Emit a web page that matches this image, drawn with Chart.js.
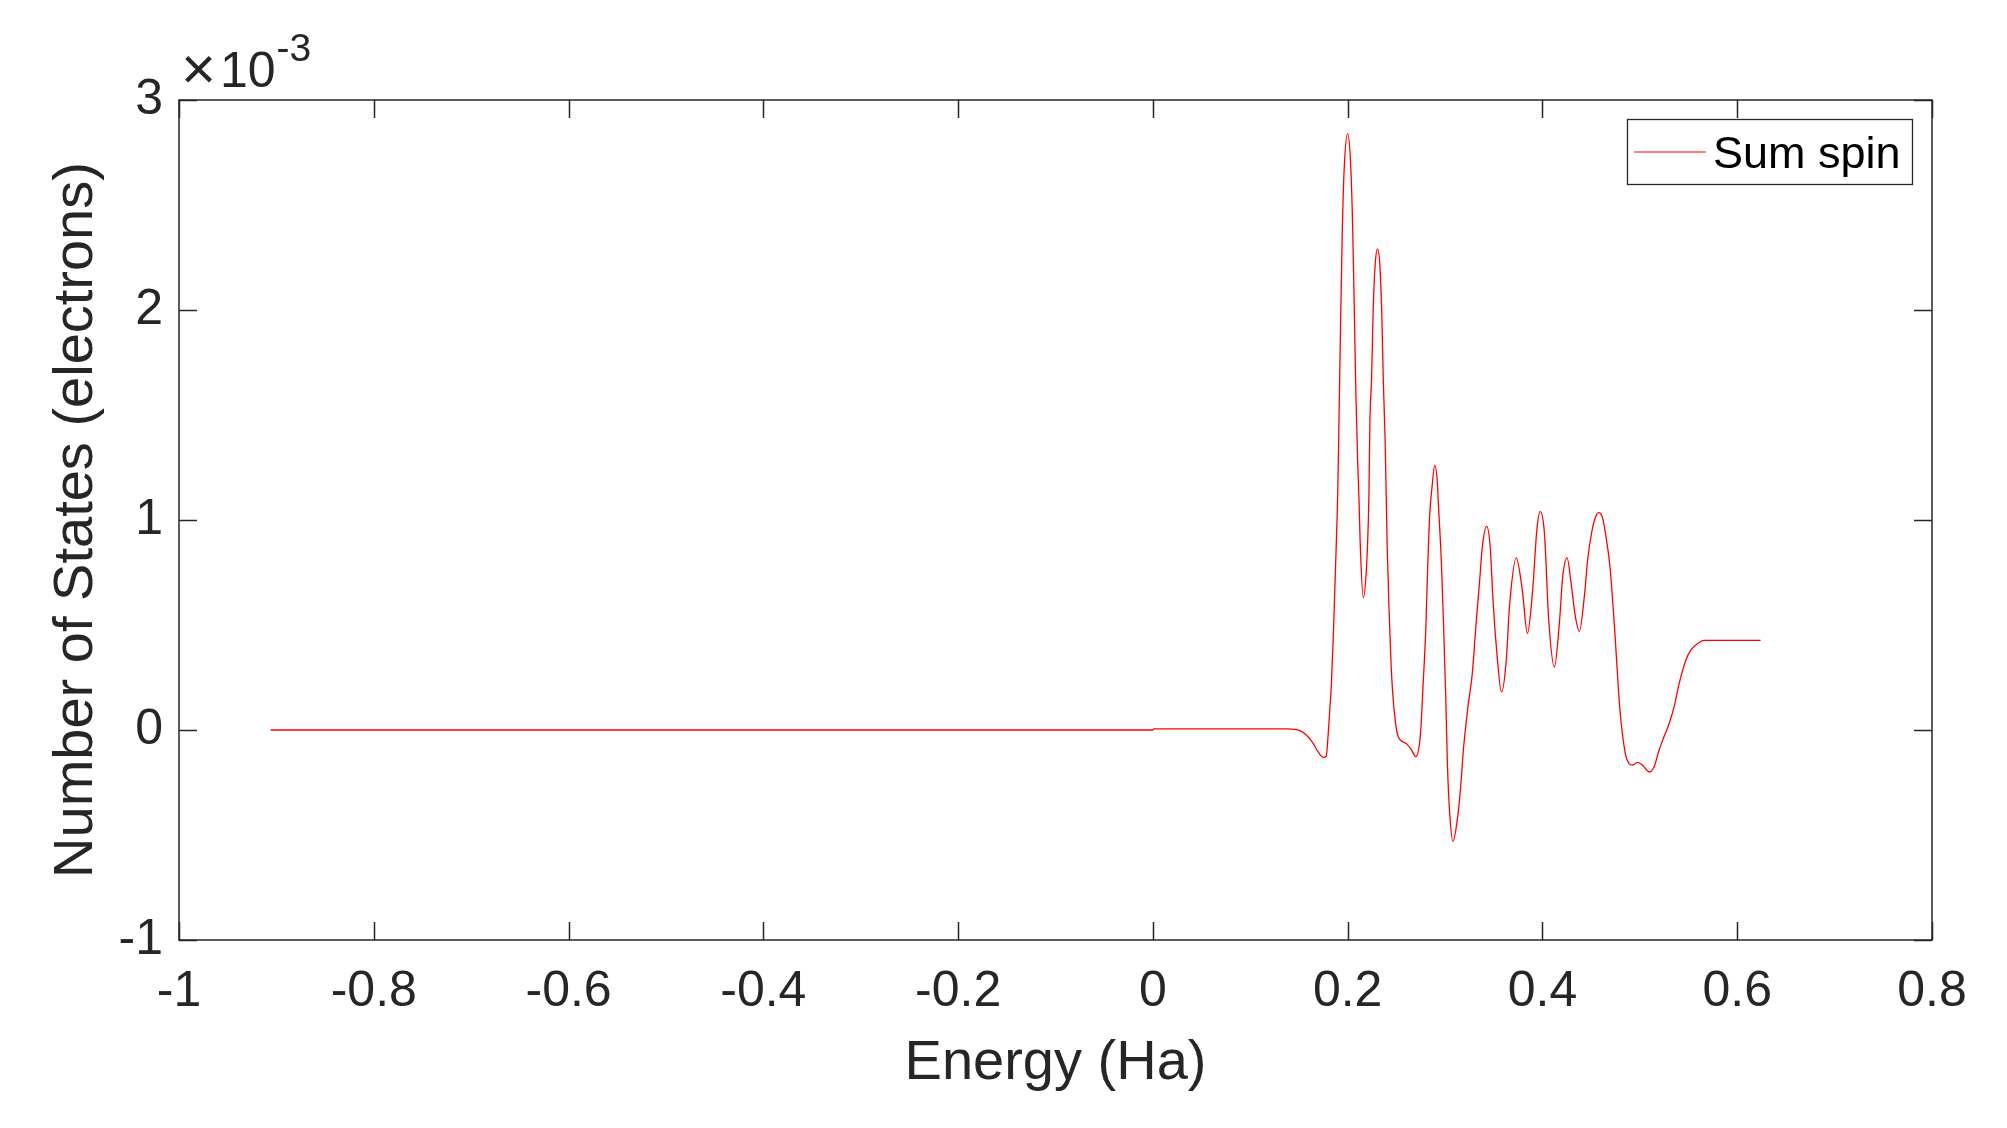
<!DOCTYPE html>
<html>
<head>
<meta charset="utf-8">
<script src="https://cdn.jsdelivr.net/npm/chart.js@4.4.1/dist/chart.umd.min.js"></script>
<style>
  html, body { margin: 0; padding: 0; background: #fff; }
  #wrap { width: 2007px; height: 1128px; position: relative; }
</style>
</head>
<body>
<div id="wrap"><canvas id="c" width="2007" height="1128"></canvas></div>
<script>
// ---- Data (energy in Ha, number of states in units of 1e-3 electrons) ----
const energy = [
  -0.906, 0.0, 0.001, 0.138, 0.151, 0.1576, 0.1644, 0.1695, 0.175, 0.178,
  0.1797, 0.1814, 0.1832, 0.1853, 0.188, 0.1898, 0.1911, 0.1928, 0.1945, 0.1965,
  0.2, 0.203, 0.2051, 0.2068, 0.2085, 0.2102, 0.2116, 0.213, 0.216, 0.2195,
  0.2218, 0.2228, 0.2246, 0.2262, 0.2283, 0.2307, 0.2331, 0.2351, 0.2365, 0.2385,
  0.2406, 0.2426, 0.2447, 0.2474, 0.2518, 0.2597, 0.265, 0.27, 0.2748, 0.2774,
  0.2802, 0.2822, 0.2843, 0.2867, 0.2894, 0.2922, 0.2928, 0.2963, 0.2986, 0.3007,
  0.3024, 0.3048, 0.3082, 0.3122, 0.3157, 0.3191, 0.3235, 0.328, 0.3314, 0.3355,
  0.3382, 0.3427, 0.3464, 0.3491, 0.3526, 0.358, 0.3628, 0.3662, 0.3731, 0.3792,
  0.3846, 0.39, 0.3942, 0.3976, 0.402, 0.4065, 0.4123, 0.4174, 0.4208, 0.4253,
  0.4294, 0.4338, 0.4379, 0.443, 0.4464, 0.4509, 0.455, 0.4577, 0.4617, 0.4659,
  0.4693, 0.4737, 0.4796, 0.485, 0.489, 0.4925, 0.4976, 0.5027, 0.5096, 0.5147,
  0.5198, 0.525, 0.53, 0.5352, 0.5403, 0.547, 0.5523, 0.5576, 0.566, 0.624
];
const sumSpin = [
  0, 0, 0.005, 0.005, -0.003, -0.024, -0.063, -0.103, -0.13, -0.125,
  -0.04, 0.08, 0.21, 0.45, 0.84, 1.13, 1.48, 1.95, 2.38, 2.68,
  2.84, 2.70, 2.40, 2.0, 1.59, 1.29, 1.1, 0.87, 0.63, 0.79,
  1.11, 1.46, 1.68, 2.0, 2.22, 2.29, 2.21, 1.97, 1.68, 1.37,
  0.87, 0.56, 0.30, 0.11, -0.03, -0.063, -0.09, -0.127, -0.016, 0.21,
  0.48, 0.78, 1.03, 1.16, 1.26, 1.17, 1.11, 0.79, 0.48, 0.16,
  -0.16, -0.40, -0.53, -0.44, -0.29, -0.08, 0.11, 0.27, 0.48, 0.71,
  0.87, 0.97, 0.87, 0.63, 0.40, 0.18, 0.33, 0.59, 0.82, 0.67,
  0.46, 0.67, 0.95, 1.04, 0.94, 0.52, 0.30, 0.51, 0.73, 0.82,
  0.70, 0.54, 0.47, 0.635, 0.81, 0.95, 1.02, 1.035, 1.01, 0.90,
  0.78, 0.51, 0.095, -0.11, -0.16, -0.167, -0.154, -0.167, -0.20, -0.175,
  -0.095, -0.03, 0.03, 0.11, 0.22, 0.33, 0.38, 0.405, 0.427, 0.427
];
const seriesLabel = 'Sum spin';
const xTitle = 'Energy (Ha)';
const yTitle = 'Number of States (electrons)';
const xTickRange = [-1, 0.8, 0.2];
const yTickRange = [-1, 3, 1];
const yExponentBase = '10';
const yExponentPower = '-3';

const FONT = "'Liberation Sans', Arial, Helvetica, sans-serif";
const AX = '#262626';

const points = energy.map((e, i) => ({ x: e, y: sumSpin[i] }));

const matlabPlugin = {
  id: 'matlabPlugin',
  afterDraw(chart) {
    const ctx = chart.ctx;
    const a = chart.chartArea;
    const xs = chart.scales.x, ys = chart.scales.y;
    ctx.save();
    ctx.strokeStyle = AX;
    ctx.lineWidth = 1.5;
    ctx.strokeRect(a.left, a.top, a.right - a.left, a.bottom - a.top);
    const tl = 18;
    ctx.beginPath();
    xs.ticks.forEach(t => {
      const px = Math.round(xs.getPixelForValue(t.value)) + 0.5;
      ctx.moveTo(px, a.bottom); ctx.lineTo(px, a.bottom - tl);
      ctx.moveTo(px, a.top); ctx.lineTo(px, a.top + tl);
    });
    ys.ticks.forEach(t => {
      const py = Math.round(ys.getPixelForValue(t.value)) + 0.5;
      ctx.moveTo(a.left, py); ctx.lineTo(a.left + tl, py);
      ctx.moveTo(a.right, py); ctx.lineTo(a.right - tl, py);
    });
    ctx.stroke();

    // exponent label  ×10^-3
    ctx.fillStyle = AX;
    ctx.textAlign = 'left';
    ctx.textBaseline = 'middle';
    ctx.font = '60px ' + FONT;
    ctx.fillText('\u00D7', 181, 72);
    ctx.textBaseline = 'alphabetic';
    ctx.font = '50px ' + FONT;
    ctx.fillText(yExponentBase, 220, 87);
    const w10 = ctx.measureText(yExponentBase).width;
    ctx.font = '39px ' + FONT;
    ctx.fillText(yExponentPower, 220 + w10 + 1, 61);

    // legend
    const lx = 1627, ly = 119, lw = 285, lh = 65;
    ctx.fillStyle = '#fff';
    ctx.fillRect(lx, ly, lw, lh);
    ctx.lineWidth = 1.3;
    ctx.strokeStyle = AX;
    ctx.strokeRect(lx + 0.5, ly + 0.5, lw, lh);
    ctx.strokeStyle = '#ff0000';
    ctx.lineWidth = 1.2;
    ctx.beginPath();
    ctx.moveTo(1634, 152); ctx.lineTo(1706, 152);
    ctx.stroke();
    ctx.fillStyle = '#000';
    ctx.font = '45px ' + FONT;
    ctx.fillText(seriesLabel, 1713, 168);
    ctx.restore();
  }
};

new Chart(document.getElementById('c'), {
  type: 'line',
  data: {
    datasets: [{
      label: seriesLabel,
      data: points,
      borderColor: '#ff0000',
      borderWidth: 1.3,
      pointRadius: 0,
      fill: false,
      cubicInterpolationMode: 'monotone'
    }]
  },
  options: {
    responsive: false,
    animation: false,
    devicePixelRatio: 1,
    layout: { padding: { left: 0, top: 100, right: 75, bottom: 0 } },
    plugins: { legend: { display: false }, tooltip: { enabled: false } },
    scales: {
      x: {
        type: 'linear',
        min: xTickRange[0], max: xTickRange[1],
        afterFit(s) { s.height = 188; },
        grid: { display: false, drawTicks: false },
        border: { display: false },
        ticks: {
          stepSize: xTickRange[2],
          color: AX,
          font: { family: FONT, size: 50 },
          padding: 22,
          maxRotation: 0,
          autoSkip: false,
          callback: v => String(Number(v.toFixed(1)))
        },
        title: {
          display: true, text: xTitle, color: AX,
          font: { family: FONT, size: 56 },
          padding: { top: 31, bottom: 31 }
        }
      },
      y: {
        type: 'linear',
        min: yTickRange[0], max: yTickRange[1],
        afterFit(s) { s.width = 179; },
        grid: { display: false, drawTicks: false },
        border: { display: false },
        ticks: {
          stepSize: yTickRange[2],
          color: AX,
          font: { family: FONT, size: 50 },
          padding: 16,
          callback: v => String(Number(v.toFixed(1)))
        },
        title: {
          display: true, text: yTitle, color: AX,
          font: { family: FONT, size: 56 },
          padding: { top: 43, bottom: 43 }
        }
      }
    }
  },
  plugins: [matlabPlugin]
});
</script>
</body>
</html>
